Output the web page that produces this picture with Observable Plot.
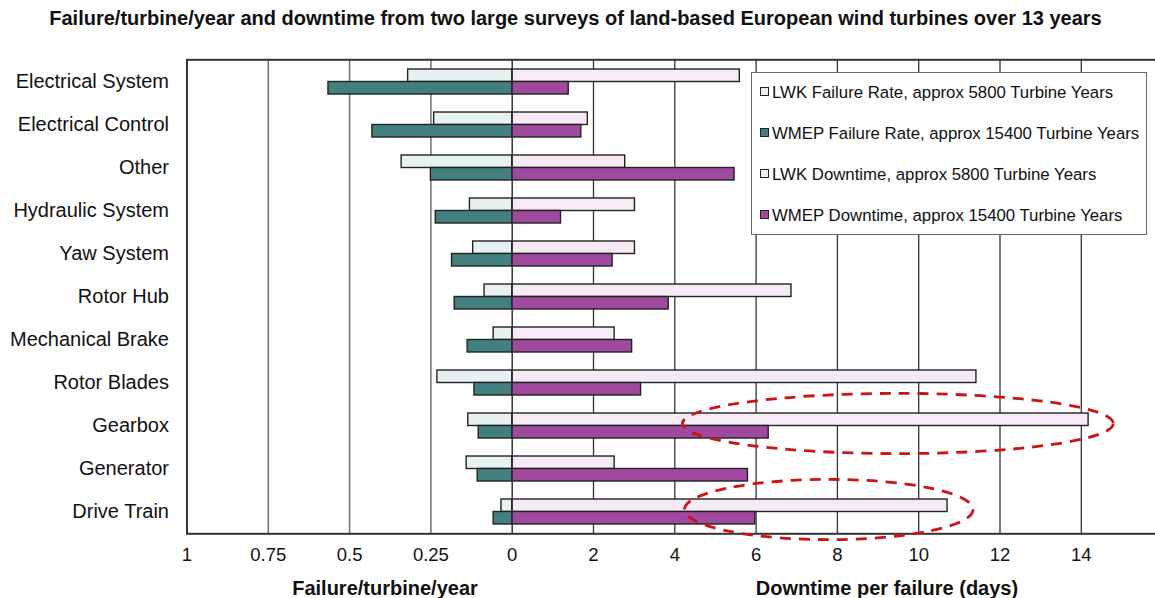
<!DOCTYPE html>
<html>
<head>
<meta charset="utf-8">
<script src="https://cdn.jsdelivr.net/npm/d3@7"></script>
<script src="https://cdn.jsdelivr.net/npm/@observablehq/plot@0.6"></script>
<style>
  html, body { margin: 0; padding: 0; background: #fff; }
  body { font-family: "Liberation Sans", Arial, sans-serif; }
  #wrap { position: relative; width: 1155px; height: 598px; overflow: hidden; }
  #title { height: 38px; line-height: 36px; text-align: center; font-weight: bold; font-size: 20px; color: #111; margin-left: -4px; }
  .axtitle { position: absolute; top: 577px; font-weight: bold; font-size: 20px; color: #111; transform: translateX(-50%); white-space: nowrap; }
  #legend { position: absolute; left: 751px; top: 72px; width: 396px; height: 163px; border: 1.5px solid #666; background: #fff; box-sizing: border-box; }
  .li { position: absolute; left: 8px; font-size: 16.8px; color: #111; white-space: nowrap; line-height: 20px; }
  .sw { display: inline-block; width: 7px; height: 7px; border: 1.3px solid #222; margin-right: 3px; vertical-align: 2px; }
</style>
</head>
<body>
<div id="wrap">
  <div id="title">Failure/turbine/year and downtime from two large surveys of land-based European wind turbines over 13 years</div>
  <div id="chart"></div>
  <div class="axtitle" style="left:385px">Failure/turbine/year</div>
  <div class="axtitle" style="left:887px">Downtime per failure (days)</div>
  <div id="legend"></div>
</div>
<script>
// ---- data ----
const categories = ["Electrical System", "Electrical Control", "Other", "Hydraulic System", "Yaw System",
  "Rotor Hub", "Mechanical Brake", "Rotor Blades", "Gearbox", "Generator", "Drive Train"];
const lwkFailure   = [0.32, 0.24, 0.34, 0.13, 0.12, 0.085, 0.057, 0.23, 0.135, 0.14, 0.033];
const wmepFailure  = [0.565, 0.43, 0.25, 0.235, 0.185, 0.177, 0.137, 0.116, 0.103, 0.106, 0.057];
const lwkDowntime  = [5.6, 1.86, 2.78, 3.02, 3.02, 6.87, 2.52, 11.42, 14.18, 2.52, 10.71];
const wmepDowntime = [1.39, 1.70, 5.47, 1.20, 2.47, 3.85, 2.95, 3.17, 6.31, 5.80, 5.98];
const failureTicks = [1, 0.75, 0.5, 0.25, 0];
const downtimeTicks = [2, 4, 6, 8, 10, 12, 14];
const seriesNames = ["LWK Failure Rate, approx 5800 Turbine Years", "WMEP Failure Rate, approx 15400 Turbine Years",
  "LWK Downtime, approx 5800 Turbine Years", "WMEP Downtime, approx 15400 Turbine Years"];
const seriesColors = ["#e7f1f1", "#41807f", "#f6eaf4", "#9f4a9f"];
// highlighted (red dashed ellipse) regions, in days
const highlights = [
  {category: "Gearbox", from: 4.2, to: 14.8},
  {category: "Drive Train", from: 4.25, to: 11.35}
];

// one shared axis: 0.25 failure/turbine/year occupies the same width as 2 days
const K = 8;
const rows = categories.map((c, i) => ({
  category: c,
  lwkF: -lwkFailure[i] * K, wmepF: -wmepFailure[i] * K,
  lwkD: lwkDowntime[i], wmepD: wmepDowntime[i]
}));
const tickVals = [...failureTicks.map(v => -v * K), ...downtimeTicks];
const fmt = v => v < 0 ? String(+(-v / K).toFixed(2)) : String(v);

const barStyle = {stroke: "#222", strokeWidth: 1.4};
const T1 = 9, T2 = 21.5;

const ellipses = (index, scales) => {
  const x = scales.x, y = scales.y;
  const bw = y.bandwidth ? y.bandwidth() : 43;
  const g = d3.create("svg:g");
  for (const h of highlights) {
    const x0 = x(h.from), x1 = x(h.to);
    const cx = (x0 + x1) / 2, rx = (x1 - x0) / 2;
    const cy = y(h.category) + bw / 2 - 2, ry = bw * 0.7;
    g.append("ellipse").attr("cx", cx).attr("cy", cy).attr("rx", rx).attr("ry", ry)
      .attr("fill", "none").attr("stroke", "#cc1414").attr("stroke-width", 2.8)
      .attr("stroke-dasharray", "11,8");
  }
  return g.node();
};

const chart = Plot.plot({
  width: 1155,
  height: 560,
  marginLeft: 186.5,
  marginRight: -7.1,
  marginTop: 21.3,
  marginBottom: 64.7,
  style: {fontFamily: "Liberation Sans, Arial, sans-serif", color: "#111", background: "white"},
  x: {domain: [-8, 16]},
  y: {domain: categories, padding: 0},
  marks: [
    Plot.ruleX(failureTicks.slice(1, 4).map(v => -v * K), {stroke: "#777", strokeWidth: 1.6}),
    Plot.ruleX(downtimeTicks, {stroke: "#333", strokeWidth: 1.3}),
    Plot.barX(rows, {y: "category", x1: 0, x2: "lwkF", fill: seriesColors[0], insetTop: T1, insetBottom: T2, ...barStyle}),
    Plot.barX(rows, {y: "category", x1: 0, x2: "wmepF", fill: seriesColors[1], insetTop: T2, insetBottom: T1, ...barStyle}),
    Plot.barX(rows, {y: "category", x1: 0, x2: "lwkD", fill: seriesColors[2], insetTop: T1, insetBottom: T2, ...barStyle}),
    Plot.barX(rows, {y: "category", x1: 0, x2: "wmepD", fill: seriesColors[3], insetTop: T2, insetBottom: T1, ...barStyle}),
    Plot.ruleX([0], {stroke: "#333", strokeWidth: 1.5}),
    Plot.frame({stroke: "#333", strokeWidth: 2}),
    ellipses,
    Plot.axisX({ticks: tickVals, tickFormat: fmt, tickSize: 0, tickPadding: 14, fontSize: 18.5, label: null}),
    Plot.axisY({tickSize: 0, tickPadding: 18, fontSize: 20, label: null})
  ]
});
document.getElementById("chart").appendChild(chart);

// legend
const lg = document.getElementById("legend");
const rowTops = [10, 51, 92, 133];
seriesNames.forEach((name, i) => {
  const d = document.createElement("div");
  d.className = "li";
  d.style.top = rowTops[i] + "px";
  d.innerHTML = `<span class="sw" style="background:${seriesColors[i]}"></span>${name}`;
  lg.appendChild(d);
});
</script>
</body>
</html>
